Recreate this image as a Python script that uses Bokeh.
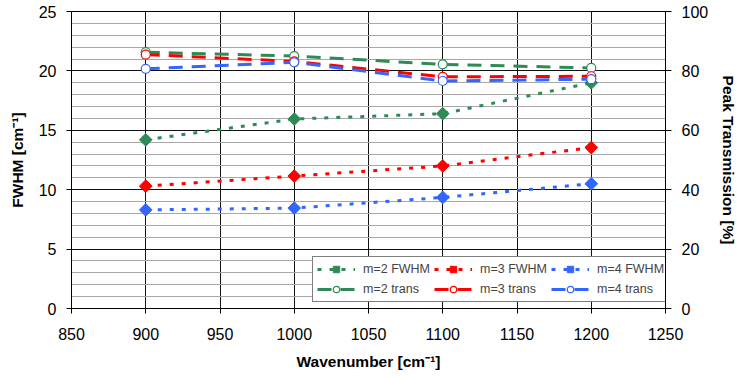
import numpy as np
from bokeh.plotting import figure
from bokeh.models import (Range1d, LinearAxis, SingleIntervalTicker, Legend, LegendItem)
from bokeh.embed import file_html
from bokeh.resources import INLINE

# ---- data ----
wavenumber = [900, 1000, 1100, 1200]
fwhm_m2 = [14.2, 15.95, 16.4, 19.0]
fwhm_m3 = [10.3, 11.15, 12.0, 13.55]
fwhm_m4 = [8.3, 8.45, 9.35, 10.5]
trans_m2 = [86.3, 85.0, 82.2, 81.0]
trans_m3 = [85.5, 83.2, 78.0, 78.2]
trans_m4 = [80.7, 82.9, 76.6, 77.2]

fwhm_labels = ["m=2 FWHM", "m=3 FWHM", "m=4 FWHM"]
trans_labels = ["m=2 trans", "m=3 trans", "m=4 trans"]
colors = ["#2E8B57", "#FF0000", "#3366FF"]

FONT = "Liberation Sans"

p = figure(width=740, height=377, output_backend="svg", toolbar_location=None,
           x_range=Range1d(850, 1250), y_range=Range1d(0, 25),
           min_border_left=71, min_border_right=72, min_border_top=11, min_border_bottom=69)
p.extra_y_ranges = {"trans": Range1d(0, 100)}
p.background_fill_color = "white"
p.outline_line_color = "black"
p.outline_line_width = 1

p.xaxis.ticker = SingleIntervalTicker(interval=50, num_minor_ticks=0)
p.yaxis.ticker = SingleIntervalTicker(interval=5, num_minor_ticks=5)
p.xgrid.ticker = p.xaxis.ticker
p.ygrid.ticker = p.yaxis.ticker

p.xgrid.grid_line_color = "#111111"
p.ygrid.grid_line_color = "#111111"
p.ygrid.minor_grid_line_color = "#A8A8A8"
p.ygrid.minor_grid_line_width = 1.2

right_axis = LinearAxis(y_range_name="trans", ticker=SingleIntervalTicker(interval=20, num_minor_ticks=0))
p.add_layout(right_axis, "right")

p.xaxis.axis_label = "Wavenumber [cm⁻¹]"
p.yaxis[0].axis_label = "FWHM [cm⁻¹]"
right_axis.axis_label = "Peak Transmission [%]"

for ax in [p.xaxis[0], p.yaxis[0], right_axis]:
    ax.axis_line_color = "black"
    ax.major_tick_line_color = "black"
    ax.major_tick_out = 5
    ax.major_tick_in = 0
    ax.minor_tick_out = 0
    ax.minor_tick_in = 0
    ax.major_label_text_font = FONT
    ax.major_label_text_font_size = "16px"
    ax.major_label_text_color = "black"
    ax.axis_label_text_font = FONT
    ax.axis_label_text_font_size = "15.5px"
    ax.axis_label_text_font_style = "bold"
    ax.axis_label_text_color = "black"

p.xaxis.major_label_standoff = 14
p.xaxis.axis_label_standoff = 10
p.yaxis[0].major_label_standoff = 10
p.yaxis[0].axis_label_standoff = 10
right_axis.major_tick_out = 6
right_axis.major_tick_in = 4
right_axis.major_label_standoff = 10
right_axis.axis_label_standoff = 9

items = []
fwhm_series = [fwhm_m2, fwhm_m3, fwhm_m4]
trans_series = [trans_m2, trans_m3, trans_m4]

for lab, ys, c in zip(fwhm_labels, fwhm_series, colors):
    l = p.line(wavenumber, ys, line_color=c, line_width=3, line_dash="4 8")
    s = p.scatter(wavenumber, ys, marker="square", size=9, angle=np.pi / 4,
                  fill_color=c, line_color=c, line_width=1)
    items.append(LegendItem(label=lab, renderers=[l, s]))

for lab, ys, c in zip(trans_labels, trans_series, colors):
    l = p.line(wavenumber, ys, line_color=c, line_width=3, line_dash="14 9", y_range_name="trans")
    s = p.scatter(wavenumber, ys, marker="circle", size=9, fill_color="white",
                  line_color=c, line_width=1.2, y_range_name="trans")
    items.append(LegendItem(label=lab, renderers=[l, s]))

legend = Legend(items=items, location=(241, 6), orientation="horizontal", ncols=3,
                glyph_width=38, glyph_height=16, label_height=16, label_standoff=8,
                spacing=4, padding=4, margin=0,
                label_text_font=FONT, label_text_font_size="12.5px",
                border_line_color="black", border_line_width=1,
                background_fill_color="white", background_fill_alpha=1)
p.add_layout(legend, "center")

open("out.html", "w").write(file_html(p, INLINE))
